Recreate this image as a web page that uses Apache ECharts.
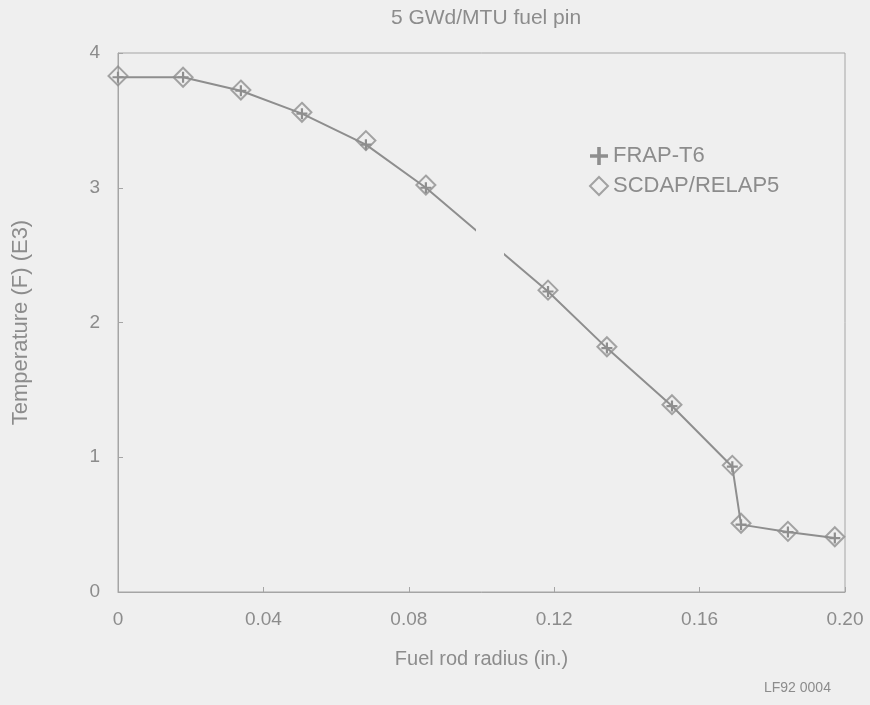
<!DOCTYPE html>
<html>
<head>
<meta charset="utf-8">
<title>5 GWd/MTU fuel pin</title>
<script src="https://cdn.jsdelivr.net/npm/echarts@6/dist/echarts.min.js"></script>
<style>
  html, body { margin: 0; padding: 0; background: #efefef; }
  #chart { width: 870px; height: 705px; }
</style>
</head>
<body>
<div id="chart"></div>
<script>
// Radial temperature profile, two code predictions
var radiusFrap  = [0, 0.0179, 0.0338, 0.0506, 0.0682, 0.0847, 0.1183, 0.1345, 0.1524, 0.1690, 0.1714, 0.1843, 0.1972];
var tempFrap    = [3.82, 3.82, 3.72, 3.55, 3.32, 3.00, 2.23, 1.81, 1.38, 0.93, 0.50, 0.445, 0.40];
var radiusScdap = [0, 0.0179, 0.0338, 0.0506, 0.0682, 0.0847, 0.1183, 0.1345, 0.1524, 0.1690, 0.1714, 0.1843, 0.1972];
var tempScdap   = [3.83, 3.82, 3.725, 3.56, 3.35, 3.02, 2.24, 1.82, 1.39, 0.94, 0.51, 0.45, 0.41];
var xTicks = [0, 0.04, 0.08, 0.12, 0.16, 0.20];
var yTicks = [0, 1, 2, 3, 4];
// break in the FRAP-T6 trace (radius, in.)
var traceGap = [0.0985, 0.1062];

var ink = '#8e8e8e';
var txt = '#8c8c8c';
var font = 'Liberation Sans, Arial, sans-serif';
var plusPath = 'path://M4,0h2v4h4v2h-4v4h-2v-4h-4v-2h4z';

function pairs(xs, ys) { return xs.map(function (x, i) { return [x, ys[i]]; }); }

// gradient along the trace that leaves the gap transparent
var rMin = radiusFrap[0], rMax = radiusFrap[radiusFrap.length - 1];
var g0 = (traceGap[0] - rMin) / (rMax - rMin);
var g1 = (traceGap[1] - rMin) / (rMax - rMin);
var traceColor = new echarts.graphic.LinearGradient(0, 0, 1, 0, [
  { offset: 0, color: ink },
  { offset: g0, color: ink },
  { offset: g0, color: 'rgba(0,0,0,0)' },
  { offset: g1, color: 'rgba(0,0,0,0)' },
  { offset: g1, color: ink },
  { offset: 1, color: ink }
]);

var chart = echarts.init(document.getElementById('chart'), null, { renderer: 'canvas' });
chart.setOption({
  backgroundColor: '#efefef',
  animation: false,
  title: {
    text: '5 GWd/MTU fuel pin',
    left: 481, top: 3, textAlign: 'center',
    textStyle: { color: txt, fontFamily: font, fontSize: 21, fontWeight: 'normal' }
  },
  graphic: [{
    type: 'text', left: 764, top: 681,
    style: { text: 'LF92 0004', fill: txt, font: '14px ' + font }
  }],
  legend: {
    orient: 'vertical', left: 584, top: 140, itemGap: 8,
    itemWidth: 18, itemHeight: 18,
    textStyle: { color: txt, fontFamily: font, fontSize: 22 },
    data: [
      { name: 'FRAP-T6', icon: plusPath, itemStyle: { color: ink, borderWidth: 0 } },
      { name: 'SCDAP/RELAP5', icon: 'diamond', itemStyle: { color: 'rgba(0,0,0,0)', borderColor: ink, borderWidth: 2 } }
    ]
  },
  grid: {
    left: 118, right: 25, top: 53, bottom: 113,
    show: true, borderColor: '#a5a5a5', borderWidth: 1, backgroundColor: 'transparent'
  },
  xAxis: {
    type: 'value', min: xTicks[0], max: xTicks[xTicks.length - 1], interval: 0.04,
    name: 'Fuel rod radius (in.)', nameLocation: 'middle', nameGap: 57,
    nameTextStyle: { color: txt, fontFamily: font, fontSize: 20 },
    axisLine: { show: true, lineStyle: { color: '#a5a5a5', width: 1 } },
    axisTick: { show: true, inside: true, length: 5, lineStyle: { color: '#a5a5a5' } },
    splitLine: { show: false },
    axisLabel: {
      color: txt, fontFamily: font, fontSize: 19, margin: 18,
      formatter: function (v) { return v === 0 ? '0' : v.toFixed(2); }
    }
  },
  yAxis: {
    type: 'value', min: yTicks[0], max: yTicks[yTicks.length - 1], interval: 1,
    name: 'Temperature (F) (E3)', nameLocation: 'middle', nameGap: 86, nameRotate: 90,
    nameTextStyle: { color: txt, fontFamily: font, fontSize: 22 },
    axisLine: { show: true, lineStyle: { color: '#a5a5a5', width: 1 } },
    axisTick: { show: true, inside: true, length: 5, lineStyle: { color: '#a5a5a5' } },
    splitLine: { show: false },
    axisLabel: { color: txt, fontFamily: font, fontSize: 19, margin: 18 }
  },
  series: [
    {
      name: 'FRAP-T6', type: 'line', data: pairs(radiusFrap, tempFrap),
      symbol: plusPath, symbolSize: 11, showAllSymbol: true,
      lineStyle: { color: traceColor, width: 2 },
      itemStyle: { color: ink, borderWidth: 0 },
      z: 3
    },
    {
      name: 'SCDAP/RELAP5', type: 'scatter', data: pairs(radiusScdap, tempScdap),
      symbol: 'diamond', symbolSize: [19, 19],
      itemStyle: { color: 'rgba(0,0,0,0)', borderColor: ink, borderWidth: 2 },
      z: 4
    }
  ]
});
</script>
</body>
</html>
